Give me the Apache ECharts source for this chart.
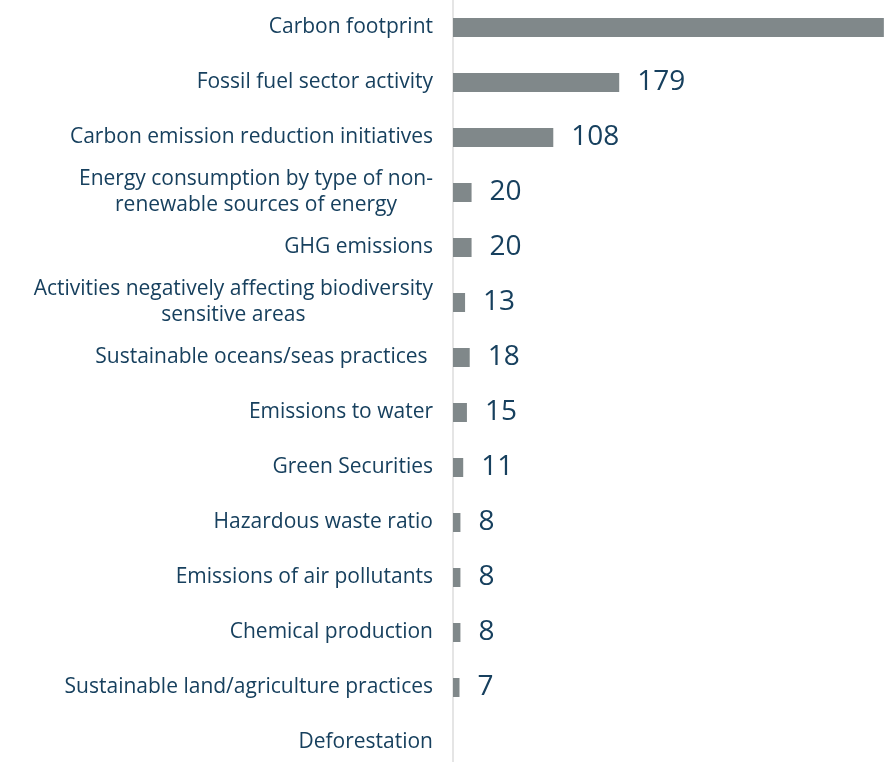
<!DOCTYPE html>
<html>
<head>
<meta charset="utf-8">
<script src="https://cdn.jsdelivr.net/npm/echarts@6/dist/echarts.min.js"></script>
<style>
  html, body { margin: 0; padding: 0; background: #fff; }
  #chart { width: 889px; height: 762px; }
</style>
</head>
<body>
<div id="chart"></div>
<script>
  // categories top -> bottom
  var categories = [
    'Carbon footprint',
    'Fossil fuel sector activity',
    'Carbon emission reduction initiatives',
    'Energy consumption by type of non-\nrenewable sources of energy',
    'GHG emissions',
    'Activities negatively affecting biodiversity\nsensitive areas',
    'Sustainable oceans/seas practices ',
    'Emissions to water',
    'Green Securities',
    'Hazardous waste ratio',
    'Emissions of air pollutants',
    'Chemical production',
    'Sustainable land/agriculture practices',
    'Deforestation'
  ]
  // first value label is cut off in the picture
  var counts = [464, 179, 108, 20, 20, 13, 18, 15, 11, 8, 8, 8, 7, null]

  var textColor = '#17405e'
  var labelFont = 'Open Sans'

  var chart = echarts.init(document.getElementById('chart'))
  chart.setOption({
    animation: false,
    grid: {
      left: 453,
      top: 0,
      width: 650, // wider than the page: original picture is cropped on the right
      height: 770,
      outerBoundsMode: 'none'
    },
    xAxis: {
      type: 'value',
      min: 0,
      max: 700,
      show: false
    },
    yAxis: {
      type: 'category',
      inverse: true,
      data: categories,
      axisTick: { show: false },
      axisLine: {
        show: true,
        lineStyle: { color: '#dcdcdc', width: 1.5 }
      },
      axisLabel: {
        margin: 20,
        color: textColor,
        fontFamily: labelFont,
        fontSize: 21,
        lineHeight: 26,
        formatter: function (val) {
          if (val.indexOf('\n') < 0) return val
          // centre the wrapped lines under each other
          return val.split('\n').map(function (s) { return '{c|' + s + '}' }).join('\n')
        },
        rich: {
          c: {
            align: 'center',
            color: textColor,
            fontFamily: labelFont,
            fontSize: 21,
            lineHeight: 26
          }
        }
      }
    },
    series: [{
      type: 'bar',
      data: counts,
      barWidth: 19,
      itemStyle: { color: '#80888a' },
      label: {
        show: true,
        position: 'right',
        distance: 18,
        color: textColor,
        fontFamily: labelFont,
        fontSize: 28
      }
    }]
  })
</script>
</body>
</html>
